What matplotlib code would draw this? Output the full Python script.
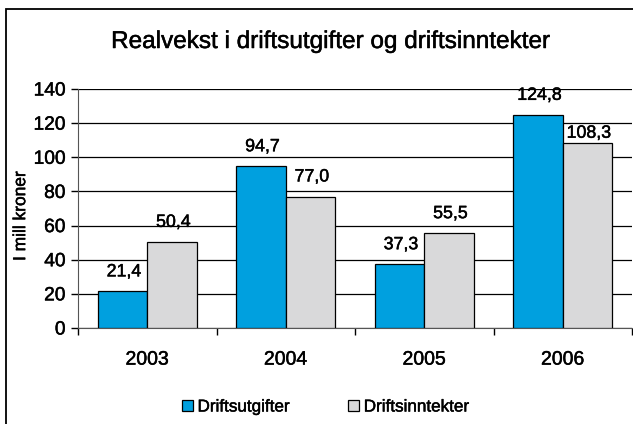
import numpy as np
import matplotlib
matplotlib.use("Agg")
import matplotlib.pyplot as plt
import matplotlib.patheffects as pe
from matplotlib.patches import Rectangle

plt.rcParams['font.family'] = ['Liberation Sans', 'DejaVu Sans']

# data
years = ['2003', '2004', '2005', '2006']
utgifter = [21.4, 94.7, 37.3, 124.8]
inntekter = [50.4, 77.0, 55.5, 108.3]
series_names = ['Driftsutgifter', 'Driftsinntekter']
blue = '#00A0DF'
grey = '#D9D9DA'

fig = plt.figure(figsize=(6.33, 4.24), dpi=100)
ax = fig.add_axes([78 / 633, 1 - 328 / 424, 554 / 633, 239 / 424])

x = np.arange(len(years))
w = 0.357
b1 = ax.bar(x - w / 2, utgifter, w, color=blue, edgecolor='black', linewidth=0.9,
            label=series_names[0], zorder=3)
b2 = ax.bar(x + w / 2, inntekter, w, color=grey, edgecolor='black', linewidth=0.9,
            label=series_names[1], zorder=3)

for s_i, (bars, vals) in enumerate(((b1, utgifter), (b2, inntekter))):
    for i, (rect, v) in enumerate(zip(bars, vals)):
        # the last grey label sits tight on its bar in the original
        dy = 1 if (s_i == 1 and i == len(vals) - 1) else 8
        ax.annotate(f"{v:.1f}".replace('.', ','),
                    (rect.get_x() + rect.get_width() / 2, rect.get_height()),
                    xytext=(1, dy), textcoords='offset points',
                    ha='center', va='bottom', fontsize=12.8)

ax.set_xlim(-0.5, len(years) - 0.5)
ax.set_ylim(0, 140)
ax.set_yticks(range(0, 141, 20))
ax.set_xticks(x)
ax.set_xticklabels(years)
ax.set_xticks(np.arange(-0.5, len(years)), minor=True)
ax.tick_params(axis='x', which='major', length=0, pad=17, labelsize=14)
ax.tick_params(axis='x', which='minor', length=5, width=1, direction='out')
ax.tick_params(axis='y', length=5, width=1, direction='out', pad=4, labelsize=13.8)
ax.set_ylabel('I mill kroner', fontsize=12.5)
ax.yaxis.set_label_coords(-0.090, 0.469)

ax.yaxis.grid(True, color='black', linewidth=0.9, zorder=0)
ax.set_axisbelow(True)
for s in ('top', 'right'):
    ax.spines[s].set_visible(False)
ax.spines['left'].set_color('#555555')
ax.spines['bottom'].set_color('#555555')

fig.text(330 / 633, 1 - 42 / 424, 'Realvekst i driftsutgifter og driftsinntekter',
         ha='center', va='center', fontsize=17.5)

fig.legend(handles=[b1, b2], loc='center', bbox_to_anchor=(326 / 633, 1 - 407 / 424),
           ncol=2, frameon=False, fontsize=12.3, handlelength=0.65, handleheight=0.65,
           handletextpad=0.25, columnspacing=3.4)

# slightly heavier text, like the original typeface
for t in fig.findobj(matplotlib.text.Text):
    t.set_path_effects([pe.withStroke(linewidth=0.35, foreground='black')])

# frame around the chart
fig.patches.append(Rectangle((6 / 633, -0.2), 1.2, 1.2 - 9 / 424, transform=fig.transFigure,
                             fill=False, edgecolor='black', linewidth=1.3))

fig.savefig('out.png', dpi=100)
